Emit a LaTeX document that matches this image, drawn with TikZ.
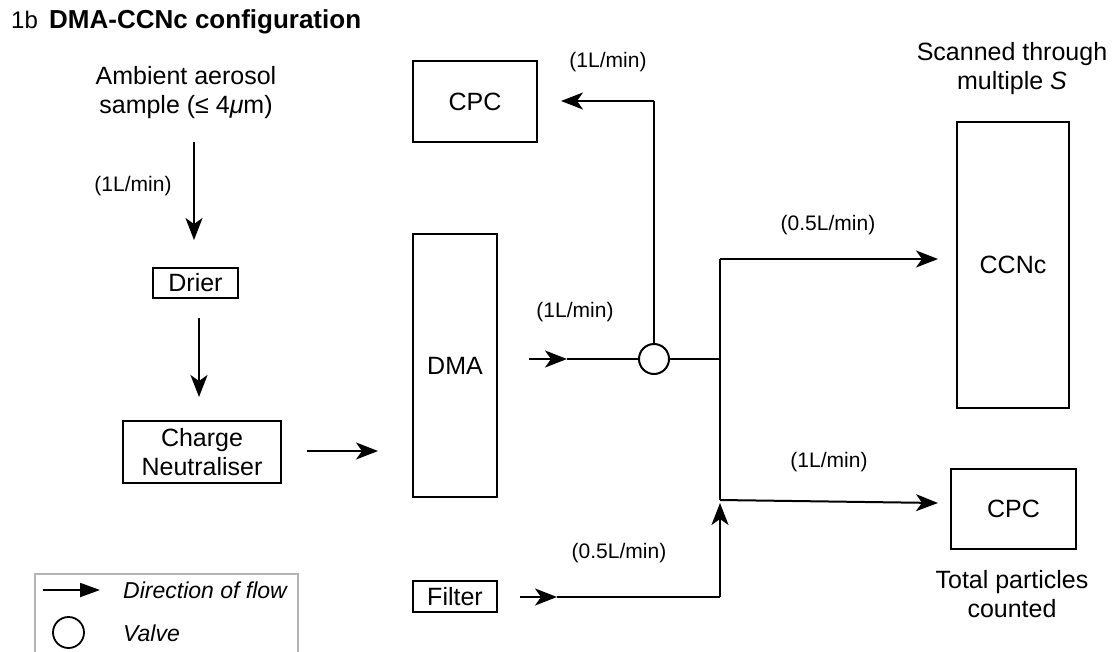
\documentclass[tikz,border=0pt]{standalone}
\usepackage{fontspec}
\setmainfont{Liberation Sans}
\usetikzlibrary{arrows.meta}
\newcommand{\fsmain}{\fontsize{25}{29}\selectfont}
\newcommand{\fslab}{\fontsize{21}{25}\selectfont}
\newcommand{\fsleg}{\fontsize{23}{27}\selectfont}
\newcommand{\fstitle}{\fontsize{26}{30}\selectfont\bfseries}
\newcommand{\fsnum}{\fontsize{24}{28}\selectfont}
\definecolor{legframe}{RGB}{180,180,180}
\begin{document}
\begin{tikzpicture}[x=1pt,y=-1pt,
  box/.style={draw, line width=2pt, inner sep=0pt, align=center, font=\fsmain},
  txt/.style={inner sep=0pt, align=center, font=\fsmain},
  lab/.style={inner sep=0pt, font=\fslab},
  leg/.style={inner sep=0pt, anchor=west, font=\fsleg\itshape},
  line/.style={line width=2pt},
  flow/.style={line width=2pt, -{Stealth[length=22pt,width=17pt,inset=6pt]}},
  legflow/.style={line width=2pt, -{Triangle[length=20pt,width=14pt]}}]
\clip (0,0) rectangle (1117,651);
% title
\node[anchor=base west, inner sep=0pt, font=\fsnum] (num) at (11,28) {1b};
\node[anchor=base west, inner sep=0pt, font=\fstitle] (title) at (49,28) {DMA-CCNc configuration};
% left chain
\node[txt] (amb) at (186,93) {Ambient aerosol\\sample (≤ 4\textit{μ}m)};
\coordinate (a1s) at (194,142);
\coordinate (a1e) at (194,240);
\draw[flow] (a1s) -- (a1e);
\node[lab] (l1) at (133,186) {(1L/min)};
\node[box, minimum width=85pt, minimum height=30pt] (drier) at (195.5,283) {Drier};
\coordinate (a2s) at (199,318);
\coordinate (a2e) at (199,397);
\draw[flow] (a2s) -- (a2e);
\node[box, minimum width=158pt, minimum height=62pt] (charge) at (202,452) {Charge\\Neutraliser};
\coordinate (a3s) at (307,451);
\coordinate (a3e) at (378,451);
\draw[flow] (a3s) -- (a3e);
\node[box, minimum width=84pt, minimum height=263pt] (dma) at (455,365.5) {DMA};
% top CPC and valve
\node[box, minimum width=124pt, minimum height=81pt] (cpc1) at (475,101.5) {CPC};
\node[draw, circle, line width=2pt, fill=white, minimum size=30pt, inner sep=0pt] (valve) at (654,359) {};
\coordinate (ins) at (529,359);
\coordinate (inh) at (567,359);
\draw[flow] (ins) -- (inh);
\draw[line] (inh) -- (valve.west);
\node[lab] (l2) at (575,312) {(1L/min)};
\coordinate (vtop) at (654,101);
\coordinate (cpctip) at (561,101);
\draw[line] (valve.north) -- (vtop);
\draw[flow] (vtop) -- (cpctip);
\node[lab] (l3) at (608,62) {(1L/min)};
% junction
\coordinate (jv) at (720,359);
\coordinate (jt) at (720,259);
\coordinate (jb) at (720,500);
\draw[line] (valve.east) -- (jv);
\draw[line] (jt) -- (jb);
\coordinate (ccntip) at (938,259);
\draw[flow] (jt) -- (ccntip);
\node[lab] (l4) at (828,225) {(0.5L/min)};
\coordinate (cpc2tip) at (938,503);
\draw[flow] (jb) -- (cpc2tip);
\node[lab] (l5) at (829,462) {(1L/min)};
% right boxes
\node[txt] (scan) at (1012,68.5) {Scanned through\\multiple \textit{S}};
\node[box, minimum width=112pt, minimum height=286pt] (ccnc) at (1013,265) {CCNc};
\node[box, minimum width=125pt, minimum height=80pt] (cpc2) at (1013.5,509) {CPC};
\node[txt] (tot) at (1012,594) {Total particles\\counted};
% filter
\node[box, minimum width=84pt, minimum height=31pt] (filter) at (455,596.5) {Filter};
\coordinate (fs) at (520,597);
\coordinate (fh) at (557,597);
\coordinate (fc) at (720,597);
\coordinate (fup) at (720,503);
\draw[flow] (fs) -- (fh);
\draw[line] (fh) -- (fc);
\draw[flow] (fc) -- (fup);
\node[lab] (l6) at (619,553) {(0.5L/min)};
% legend
\draw[legframe, line width=1.5pt] (35,574) rectangle (298,662);
\coordinate (las) at (43,590);
\coordinate (lae) at (100,590);
\draw[legflow] (las) -- (lae);
\node[leg] (legflowtxt) at (123,590) {Direction of flow};
\node[draw, circle, line width=1.8pt, minimum size=31pt, inner sep=0pt] (legvalve) at (68.5,632.5) {};
\node[leg] (legvalvetxt) at (123,633) {Valve};
\end{tikzpicture}
\end{document}
